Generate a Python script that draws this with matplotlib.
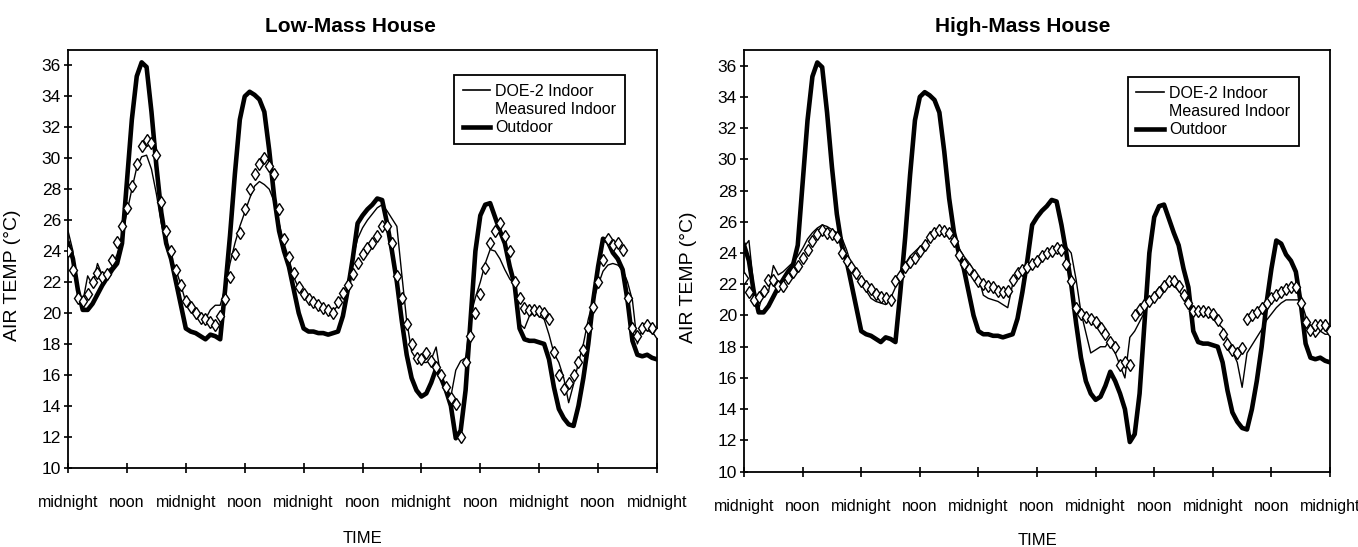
import numpy as np
import matplotlib
matplotlib.use('Agg')
import matplotlib.pyplot as plt
from matplotlib.lines import Line2D

plt.rcParams['font.family'] = ['Liberation Sans', 'DejaVu Sans']

# hourly temperatures (deg C), 5 days starting at midnight
outdoor = [24.5, 23.5, 21.5, 20.2, 20.2, 20.6, 21.2, 21.8, 22.3, 22.8, 23.2, 24.5,
           28.5, 32.5, 35.3, 36.2, 35.9, 33.0, 29.5, 26.5, 24.5, 23.5, 22.0, 20.5,
           19.0, 18.8, 18.7, 18.5, 18.3, 18.6, 18.5, 18.3, 21.5, 25.0, 29.0, 32.5,
           34.0, 34.3, 34.1, 33.8, 33.0, 30.5, 27.5, 25.3, 24.0, 23.0, 21.5, 20.0,
           19.0, 18.8, 18.8, 18.7, 18.7, 18.6, 18.7, 18.8, 19.8, 21.5, 23.5, 25.8,
           26.3, 26.7, 27.0, 27.4, 27.3, 25.8, 24.0, 22.0, 19.5, 17.3, 15.8, 15.0,
           14.6, 14.8, 15.5, 16.4, 15.8, 15.0, 14.0, 11.9, 12.4, 15.0, 19.5, 24.0,
           26.3, 27.0, 27.1, 26.2, 25.3, 24.5, 23.0, 21.8, 19.0, 18.3, 18.2, 18.2,
           18.1, 18.0, 17.0, 15.2, 13.8, 13.2, 12.8, 12.7, 14.0, 15.8, 18.0, 20.8,
           23.0, 24.8, 24.6, 23.9, 23.5, 22.8, 20.8, 18.2, 17.3, 17.2, 17.3, 17.1,
           17.0]

low_doe2 = [25.3, 24.0, 21.0, 20.7, 22.4, 21.8, 23.2, 22.4, 22.7, 23.0, 23.8, 25.0,
            26.5, 28.0, 29.4, 30.1, 30.2, 29.3, 27.7, 25.8, 24.3, 23.5, 22.8, 21.8,
            20.7, 20.2, 19.8, 19.6, 19.6, 20.2, 20.5, 20.5, 21.6, 23.2, 24.5, 25.6,
            26.5, 27.4, 28.2, 28.5, 28.3, 28.0, 27.2, 25.8, 24.5, 23.5, 22.3, 21.6,
            21.2, 20.8, 20.6, 20.4, 20.3, 20.2, 20.1, 20.5, 21.3, 22.0, 23.5, 24.8,
            25.5, 26.0, 26.4, 26.8, 27.0, 26.6, 26.1, 25.6, 22.5, 19.5, 17.5, 17.0,
            16.8, 16.8, 17.0, 17.8, 15.8, 15.3, 14.6, 16.3, 16.9, 17.1, 19.8, 21.0,
            22.0, 23.2, 24.1, 24.0, 23.5, 22.8, 22.2, 21.8, 19.3, 19.0, 19.8, 20.0,
            19.8, 19.6, 18.6, 17.4, 16.8, 15.8, 14.2, 15.4, 16.8, 18.0, 19.6, 20.8,
            21.8, 22.7, 23.1, 23.2, 23.1, 22.8, 22.0, 20.8, 18.0, 19.0, 18.9, 18.7,
            18.5]

low_measured = [24.0, 22.8, 21.0, 20.8, 21.2, 22.0, 22.6, 22.3, 22.5, 23.4, 24.6, 25.6,
                26.8, 28.2, 29.6, 30.8, 31.2, 31.0, 30.2, 27.2, 25.3, 24.0, 22.8, 21.8,
                20.8, 20.4, 20.0, 19.7, 19.6, 19.4, 19.2, 19.8, 20.9, 22.3, 23.8, 25.2,
                26.7, 28.0, 29.0, 29.6, 30.0, 29.5, 29.0, 26.7, 24.8, 23.6, 22.6, 21.7,
                21.2, 20.9, 20.7, 20.5, 20.3, 20.2, 20.0, 20.7, 21.3, 21.8, 22.5, 23.2,
                23.8, 24.2, 24.5, 25.0, 25.6, 25.6, 24.5, 22.4, 21.0, 19.3, 18.0, 17.1,
                17.0, 17.4, 16.9, 16.5, 16.0, 15.2, 14.5, 14.1, 12.0, 16.8, 18.5, 20.0,
                21.2, 22.9, 24.5, 25.3, 25.8, 25.0, 24.0, 22.0, 21.0, 20.3, 20.2, 20.2,
                20.1, 20.0, 19.6, 17.5, 16.0, 15.1, 15.5, 16.0, 16.8, 17.6, 19.0, 20.4,
                22.0, 23.4, 24.8, 24.4, 24.5, 24.1, 21.0, 19.0, 18.5, 19.0, 19.2, 19.0,
                18.7]

high_doe2 = [24.4, 24.8, 21.8, 20.4, 21.6, 21.5, 23.2, 22.6, 22.8, 23.1, 23.4, 23.8,
             24.3, 24.9, 25.3, 25.6, 25.8, 25.7, 25.5, 25.3, 25.0, 24.2, 23.2, 22.5,
             22.0, 21.6, 21.1, 20.9, 20.8, 20.7, 21.1, 21.8, 22.6, 23.3, 23.8, 24.1,
             24.4, 24.6, 24.9, 25.1, 25.2, 25.2, 25.0, 24.8, 24.3, 23.8, 23.4, 22.9,
             22.5, 21.3, 21.1, 21.0, 20.9, 20.7, 20.5, 22.0, 22.5, 22.7, 22.9, 23.1,
             23.4, 23.6, 23.8, 24.0, 24.3, 24.5, 24.4, 24.0, 22.3, 20.2, 18.9, 17.6,
             17.8, 18.0, 18.0, 18.5, 17.6, 16.8, 16.0, 18.6, 19.0, 19.6, 20.2, 20.9,
             21.4, 21.8, 22.0, 22.0, 21.9, 21.6, 21.1, 20.6, 20.2, 20.1, 20.0, 20.0,
             19.8, 19.5, 19.2, 18.5, 17.7, 17.0, 15.4, 17.6, 18.1, 18.6, 19.1, 19.7,
             20.1, 20.5, 20.8, 21.0, 21.0, 21.0, 21.0, 20.0, 19.2, 18.6, 19.0, 18.8,
             18.8]

high_measured = [22.4, 21.5, 21.0, 21.2, 21.6, 22.3, 22.3, 21.9, 21.9, 22.4, 22.8, 23.2,
                 23.7, 24.2, 24.8, 25.2, 25.5, 25.3, 25.2, 25.0, 24.0, 23.5, 23.1, 22.7,
                 22.2, 21.9, 21.7, 21.4, 21.2, 21.1, 21.0, 22.2, 22.5, 23.1, 23.4, 23.7,
                 24.1, 24.5, 25.0, 25.3, 25.5, 25.4, 25.3, 24.8, 23.9, 23.3, 23.0, 22.6,
                 22.2, 22.0, 21.9, 21.8, 21.6, 21.5, 21.6, 22.3, 22.7, 22.9, 23.1, 23.3,
                 23.5, 23.8, 24.0, 24.1, 24.3, 24.2, 23.3, 22.2, 20.5, 20.1, 19.9, 19.8,
                 19.6, 19.2, 18.8, 18.3, 18.0, 16.8, 17.0, 16.8, 20.0, 20.4, 20.7, 20.9,
                 21.2, 21.5, 21.9, 22.2, 22.2, 21.9, 21.3, 20.8, 20.3, 20.3, 20.3, 20.2,
                 20.1, 19.7, 18.8, 18.2, 17.8, 17.6, 17.9, 19.8, 20.0, 20.2, 20.5, 20.8,
                 21.1, 21.3, 21.5, 21.7, 21.8, 21.8, 20.8, 19.6, 19.1, 19.4, 19.4, 19.4,
                 19.0]

hours = np.arange(len(outdoor))
tick_labels = ['midnight', 'noon'] * 5 + ['midnight']
yticks = list(range(10, 37, 2))

fig = plt.figure(figsize=(13.58, 5.47), dpi=100)
ax1 = fig.add_axes([0.0501, 0.1450, 0.4337, 0.7636])
ax2 = fig.add_axes([0.5479, 0.1377, 0.4315, 0.7709])

# title x centre (figure fraction), xlabel y, legend anchor
panels = [(ax1, 'Low-Mass House', low_doe2, low_measured, 0.258, -0.152, (0.946, 0.940)),
          (ax2, 'High-Mass House', high_doe2, high_measured, 0.753, -0.146, (0.947, 0.936))]

for ax, title, doe2, measured, tx, ly, anchor in panels:
    ax.plot(hours, outdoor, color='black', lw=3.3, solid_joinstyle='round', zorder=2)
    ax.plot(hours, doe2, color='black', lw=1.0, zorder=3)
    ax.plot(hours, measured, linestyle='none', marker='d', ms=6,
            mfc='white', mec='black', mew=1.0, zorder=4)
    ax.set_xlim(0, 120)
    ax.set_ylim(10, 37)
    ax.set_xticks(np.arange(0, 121, 12))
    ax.set_xticklabels(tick_labels, fontsize=11.5)
    ax.set_yticks(yticks)
    ax.tick_params(axis='both', direction='inout', width=1.2, colors='black')
    ax.tick_params(axis='x', length=7, pad=16)
    ax.tick_params(axis='y', length=6, labelsize=12.5, pad=2)
    ax.set_ylabel('AIR TEMP (°C)', fontsize=14)
    ax.yaxis.set_label_coords(-0.080, 0.46)
    ax.set_xlabel('TIME', fontsize=12)
    ax.xaxis.set_label_coords(0.5, ly)
    fig.text(tx, 0.9415, title, fontsize=15, fontweight='bold', ha='center', va='baseline')
    for sp in ax.spines.values():
        sp.set_linewidth(1.3)
    handles = [Line2D([], [], color='black', lw=1.2),
               Line2D([], [], linestyle='none'),
               Line2D([], [], color='black', lw=3.3)]
    leg = ax.legend(handles, ['DOE-2 Indoor', 'Measured Indoor', 'Outdoor'],
                    loc='upper right', bbox_to_anchor=anchor, fontsize=11.5,
                    frameon=True, fancybox=False, edgecolor='black', framealpha=1,
                    handlelength=1.7, handletextpad=0.35, labelspacing=0.2,
                    borderpad=0.55, borderaxespad=0)
    leg.get_frame().set_linewidth(1.3)

plt.savefig('out.png', dpi=100)
